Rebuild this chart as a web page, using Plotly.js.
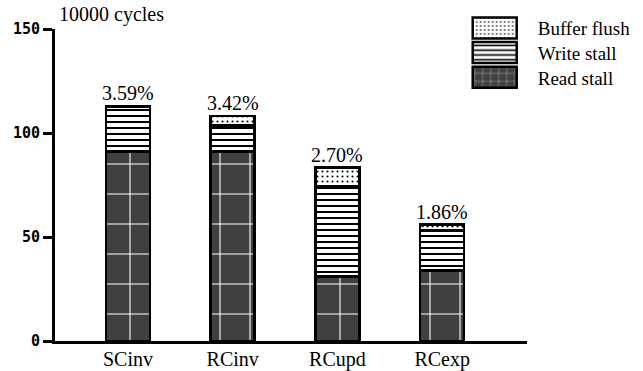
<!DOCTYPE html>
<html>
<head>
<meta charset="utf-8">
<script src="https://cdn.plot.ly/plotly-3.0.1.min.js"></script>
<style>
  html, body { margin: 0; padding: 0; background: #fff; }
  #chart { width: 643px; height: 371px; }
</style>
</head>
<body>
<div id="chart"></div>
<script>
// Execution time breakdown per protocol, in units of 10000 cycles
const protocols   = ['SCinv', 'RCinv', 'RCupd', 'RCexp'];
const readStall   = [91, 91, 31, 34];
const writeStall  = [21.6, 12.5, 43.3, 19.2];
const bufferFlush = [0.4, 4.7, 9.0, 2.8];
const percentLabels = ['3.59%', '3.42%', '2.70%', '1.86%'];
const yTicks = [0, 50, 100, 150];

const serif = '"Liberation Serif", "DejaVu Serif", serif';
const outline = { color: '#000', width: 2.5 };

const traces = [
  {
    type: 'bar', name: 'Read stall', x: protocols, y: readStall, width: 0.42,
    marker: {
      color: '#404040', line: outline,
      pattern: { shape: '+', fgcolor: '#ffffff', bgcolor: '#404040', size: 30, solidity: 0.07 }
    },
    hoverinfo: 'skip'
  },
  {
    type: 'bar', name: 'Write stall', x: protocols, y: writeStall, width: 0.42,
    marker: {
      color: '#ffffff', line: outline,
      pattern: { shape: '-', fgcolor: '#000000', bgcolor: '#ffffff', size: 6, solidity: 0.34 }
    },
    hoverinfo: 'skip'
  },
  {
    type: 'bar', name: 'Buffer flush', x: protocols, y: bufferFlush, width: 0.42,
    marker: {
      color: '#ffffff', line: outline,
      pattern: { shape: '.', fgcolor: '#000000', bgcolor: '#ffffff', size: 5, solidity: 0.14 }
    },
    hoverinfo: 'skip'
  }
];

// Percentage labels sit on top of each stacked column
const totals = protocols.map((_, i) => readStall[i] + writeStall[i] + bufferFlush[i]);
const annotations = protocols.map((p, i) => ({
  x: p, y: totals[i], xref: 'x', yref: 'y',
  text: percentLabels[i], showarrow: false,
  xanchor: 'center', yanchor: 'bottom', yshift: 0,
  font: { family: serif, size: 20, color: '#000' }
}));
annotations.push({
  x: 0.004, y: 1.045, xref: 'paper', yref: 'paper',
  text: '10000 cycles', showarrow: false,
  xanchor: 'left', yanchor: 'middle',
  font: { family: serif, size: 20, color: '#000' }
});

const layout = {
  width: 643, height: 371,
  margin: { l: 55, r: 116, t: 29, b: 30, pad: 0, autoexpand: false },
  paper_bgcolor: '#fff', plot_bgcolor: '#fff',
  barmode: 'stack',
  showlegend: true,
  legend: {
    x: 0.8405, y: 1.064, xanchor: 'left', yanchor: 'top',
    traceorder: 'reversed', itemwidth: 76,
    font: { family: serif, size: 19, color: '#000' },
    bgcolor: 'rgba(0,0,0,0)', borderwidth: 0
  },
  xaxis: {
    type: 'category', range: [-0.697, 3.81],
    showline: true, linecolor: '#000', linewidth: 3,
    ticks: '', showgrid: false, zeroline: false,
    ticklabelstandoff: -2,
    tickfont: { family: serif, size: 20, color: '#000' }
  },
  yaxis: {
    range: [0, 150], tickvals: yTicks, ticktext: yTicks.map(String),
    showline: true, linecolor: '#000', linewidth: 3,
    ticks: 'outside', ticklen: 9, tickwidth: 3, tickcolor: '#000',
    showgrid: false, zeroline: false,
    tickfont: { family: '"DejaVu Sans Mono", monospace', size: 15, color: '#000', weight: 'bold' }
  },
  annotations: annotations
};

Plotly.newPlot('chart', traces, layout, { displayModeBar: false, staticPlot: true }).then(gd => {
  // enlarge the legend swatches so the fill patterns read clearly
  gd.querySelectorAll('.legend .legendpoints path').forEach(p => {
    p.setAttribute('d', 'M22,10.5H-22V-10.5H22Z');
    p.style.strokeWidth = '2.5px';
    p.style.stroke = '#000';
  });
  // stack the legend rows tightly, swatches nearly touching
  const rows = Array.from(gd.querySelectorAll('.legend .traces'));
  if (rows.length) {
    const m = /translate\(\s*([-\d.]+)[ ,]+([-\d.]+)/.exec(rows[0].getAttribute('transform') || '');
    const x0 = m ? parseFloat(m[1]) : 0;
    const y0 = m ? parseFloat(m[2]) : 0;
    rows.forEach((r, i) => r.setAttribute('transform', `translate(${x0},${y0 + i * 24.7})`));
  }
});
</script>
</body>
</html>
